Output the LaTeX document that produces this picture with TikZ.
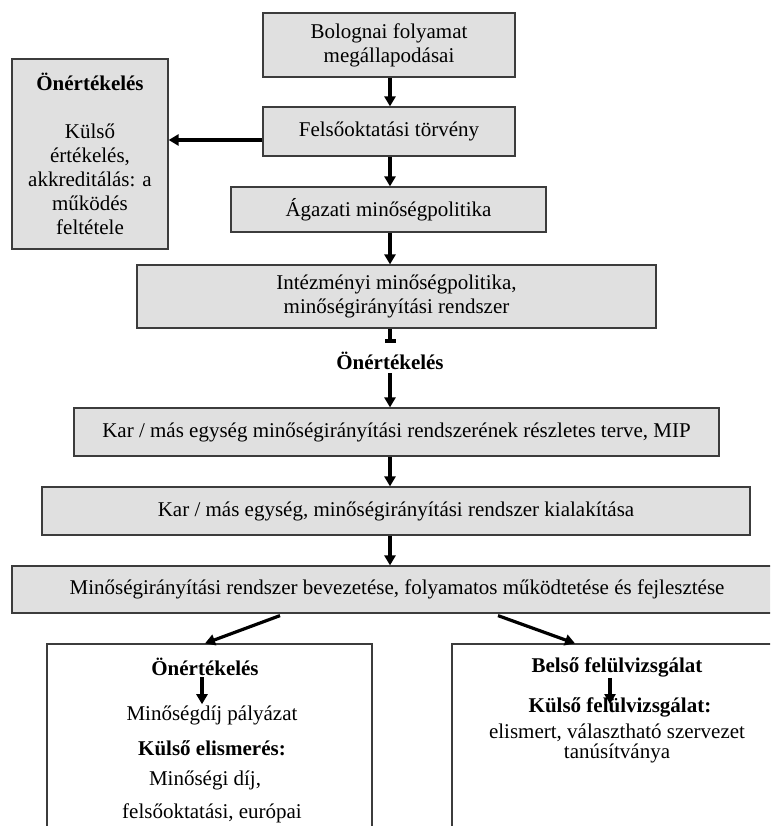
\documentclass[tikz,border=0pt]{standalone}
\usepackage{fontspec}
\setmainfont{Liberation Serif}
\usetikzlibrary{arrows.meta}
\definecolor{boxgray}{RGB}{224,224,224}
\definecolor{edgegray}{RGB}{60,60,60}
\begin{document}
\begin{tikzpicture}[x=1pt,y=-1pt,
  box/.style={draw=edgegray, line width=1.2pt, fill=boxgray, align=center,
    inner sep=0pt, font=\fontsize{21}{24}\selectfont},
  openbox/.style={draw=edgegray, line width=1.2pt, fill=white, inner sep=0pt},
  txt/.style={inner sep=1pt, align=center, font=\fontsize{21}{24}\selectfont},
  btxt/.style={txt, font=\fontsize{21}{24}\selectfont\bfseries},
  arr/.style={line width=3.2pt, -{Triangle[length=10pt,width=11pt]}},
  tbar/.style={line width=3.2pt, -{Bar[width=11pt]}}
]
\useasboundingbox (0,0) rectangle (770,826);

% main chain of boxes
\node[box, minimum width=252, minimum height=64] (b1) at (389,45)
  {Bolognai folyamat\\megállapodásai};
\node[box, minimum width=252, minimum height=49] (b2) at (389,131.5)
  {Felsőoktatási törvény};
\node[box, minimum width=315, minimum height=45] (b3) at (388.5,209.5)
  {Ágazati minőségpolitika};
\node[box, minimum width=519, minimum height=63] (b4) at (396.5,296.5)
  {Intézményi minőségpolitika,\\minőségirányítási rendszer};
\node[btxt] (oe) at (390,361) {Önértékelés};
\node[box, minimum width=645, minimum height=48] (b5) at (396.5,432)
  {Kar / más egység minőségirányítási rendszerének részletes terve, MIP};
\node[box, minimum width=708, minimum height=48] (b6) at (396,511)
  {Kar / más egység, minőségirányítási rendszer kialakítása};

% side box
\node[box, minimum width=156, minimum height=190] (side) at (90,154)
  {\textbf{Önértékelés}\\[24pt]Külső\\értékelés,\\akkreditálás: a\\működés\\feltétele};

\begin{scope}
\clip (0,0) rectangle (770,826);
\node[box, minimum width=770, minimum height=47] (b7) at (397,589.5)
  {Minőségirányítási rendszer bevezetése, folyamatos működtetése és fejlesztése};
\node[openbox, minimum width=325, minimum height=256] (bl) at (209.5,772) {};
\node[openbox, minimum width=330, minimum height=256] (br) at (617,772) {};
\end{scope}

% texts of the lower left box
\node[btxt] (bl1) at (205,667) {Önértékelés};
\node[txt] (bl2) at (212,715) {Minőségdíj pályázat};
\node[btxt] (bl3) at (212,748) {Külső elismerés:};
\node[txt] (bl4) at (205,780) {Minőségi díj,};
\node[txt] (bl5) at (212,813) {felsőoktatási, európai};

% texts of the lower right box
\node[btxt] (br1) at (617,667) {Belső felülvizsgálat};
\node[btxt] (br2) at (620,707) {Külső felülvizsgálat:};
\node[txt] (br3) at (617,733) {elismert, választható szervezet};
\node[txt] (br4) at (617,753) {tanúsítványa};

% connectors
\coordinate (ax) at (390,0);
\coordinate (hy) at (0,140);
\draw[arr] (b1.south -| ax) -- (b2.north -| ax);
\draw[arr] (b2.south -| ax) -- (b3.north -| ax);
\draw[arr] (b3.south -| ax) -- (b4.north -| ax);
\draw[tbar] (b4.south -| ax) -- ([yshift=-14pt]b4.south -| ax);
\draw[arr] ([yshift=-2pt]oe.south) -- (oe.south |- b5.north);
\draw[arr] (b5.south -| ax) -- (b6.north -| ax);
\draw[arr] (b6.south -| ax) -- (b7.north -| ax);
\draw[arr] (b2.west |- hy) -- (side.east |- hy);
\draw[arr] ([xshift=-117pt,yshift=-2pt]b7.south) -- ([xshift=-4.5pt]bl.north);
\draw[arr] ([xshift=101pt,yshift=-2pt]b7.south) -- ([xshift=-42pt]br.north);
\draw[arr] ([xshift=-3pt]bl1.south) -- ([xshift=-3pt]bl1.south |- bl2.north);
\draw[arr] ([xshift=-7pt]br1.south) -- ([xshift=-7pt,yshift=3pt]br1.south |- br2.center);
\end{tikzpicture}
\end{document}
